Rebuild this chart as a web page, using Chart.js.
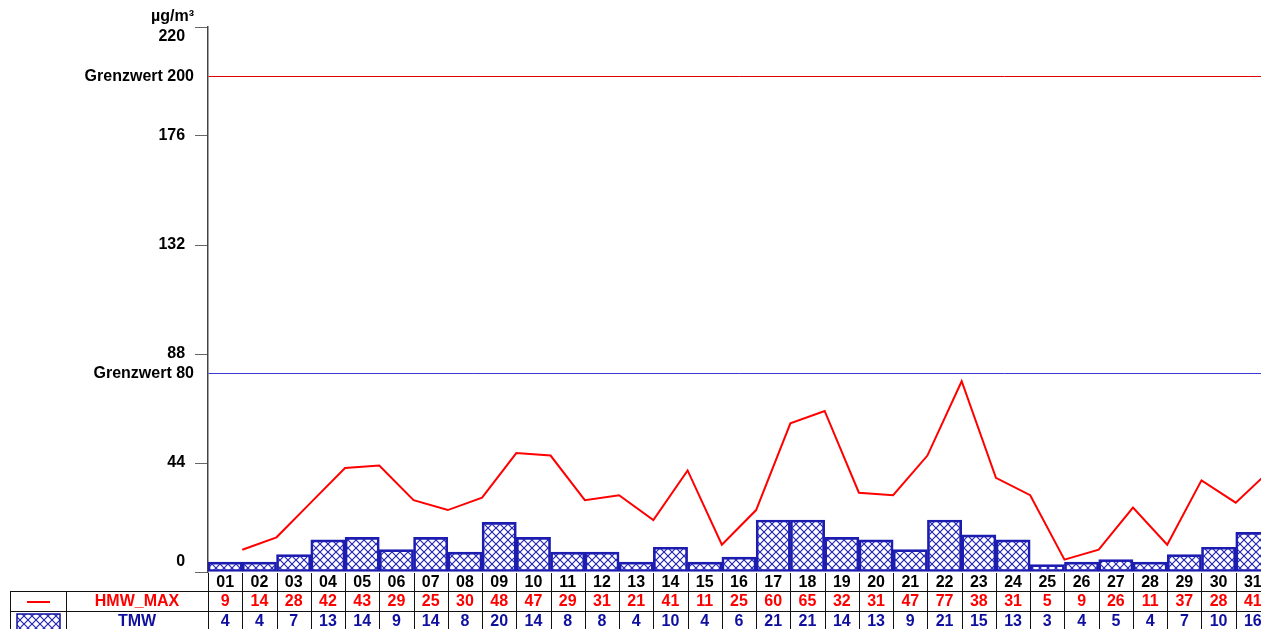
<!DOCTYPE html>
<html>
<head>
<meta charset="utf-8">
<script src="https://cdn.jsdelivr.net/npm/chart.js@4"></script>
<style>
  html, body { margin: 0; padding: 0; overflow: hidden; background: #fff; }
</style>
</head>
<body>
<canvas id="myChart" width="1270" height="629"></canvas>
<script>
// data
const days = ['01','02','03','04','05','06','07','08','09','10','11','12','13','14','15','16',
              '17','18','19','20','21','22','23','24','25','26','27','28','29','30','31'];
const hmwMax = [9,14,28,42,43,29,25,30,48,47,29,31,21,41,11,25,60,65,32,31,47,77,38,31,5,9,26,11,37,28,41];
const tmw = [4,4,7,13,14,9,14,8,20,14,8,8,4,10,4,6,21,21,14,13,9,21,15,13,3,4,5,4,7,10,16];
const tickValues = [0,44,88,132,176,220];
const limitValues = [80,200];
const unitLabel = 'µg/m³';

const RED = '#ff0000';
const BLUE = '#1010a0';
const FAMILY = '"Liberation Sans", Arial, sans-serif';
const FONT = 'bold 16px ' + FAMILY;

// cross hatch for the TMW bars
function hatch() {
    const c = document.createElement('canvas');
    c.width = 8; c.height = 8;
    const g = c.getContext('2d');
    g.strokeStyle = '#2626b8';
    g.lineWidth = 1.2;
    g.beginPath();
    g.moveTo(0, 0); g.lineTo(8, 8);
    g.moveTo(8, 0); g.lineTo(0, 8);
    g.stroke();
    return g.createPattern(c, 'repeat');
}
const pattern = hatch();

// table under the chart
const tablePlugin = {
    id: 'table',
    afterDraw(chart) {
        const ctx = chart.ctx;
        const x = chart.scales.x;
        const area = chart.chartArea;
        const y0 = area.bottom, y1 = y0 + 19, y2 = y1 + 20, y3 = chart.height + 2;
        ctx.save();
        ctx.strokeStyle = '#111';
        ctx.lineWidth = 1;
        ctx.beginPath();
        ctx.moveTo(10, y1 + 0.5); ctx.lineTo(area.right, y1 + 0.5);
        ctx.moveTo(10, y2 + 0.5); ctx.lineTo(area.right, y2 + 0.5);
        ctx.moveTo(10.5, y1); ctx.lineTo(10.5, y3);
        ctx.moveTo(66.5, y1); ctx.lineTo(66.5, y3);
        for (let i = 0; i <= days.length; i++) {
            const px = Math.round(x.getPixelForValue(i)) + 0.5;
            ctx.moveTo(px, y0 + 1); ctx.lineTo(px, y3);
        }
        ctx.stroke();

        // legend symbols
        ctx.strokeStyle = RED;
        ctx.lineWidth = 2;
        ctx.beginPath();
        ctx.moveTo(27, (y1 + y2) / 2 + 1); ctx.lineTo(50, (y1 + y2) / 2 + 1);
        ctx.stroke();
        ctx.fillStyle = pattern;
        ctx.fillRect(17, y2 + 3, 43, 20);
        ctx.strokeStyle = BLUE;
        ctx.lineWidth = 1.5;
        ctx.strokeRect(17, y2 + 3, 43, 20);

        ctx.font = FONT;
        ctx.textAlign = 'center';
        ctx.textBaseline = 'middle';
        ctx.fillStyle = RED;
        ctx.fillText('HMW_MAX', 137, (y1 + y2) / 2 + 1);
        ctx.fillStyle = BLUE;
        ctx.fillText('TMW', 137, (y2 + y3) / 2 + 1);

        days.forEach((d, i) => {
            const cx = x.getPixelForValue(i + 0.5);
            ctx.fillStyle = '#000';
            ctx.fillText(d, cx, (y0 + y1) / 2 + 1);
            ctx.fillStyle = RED;
            ctx.fillText(String(hmwMax[i]), cx, (y1 + y2) / 2 + 1);
            ctx.fillStyle = BLUE;
            ctx.fillText(String(tmw[i]), cx, (y2 + y3) / 2 + 1);
        });
        ctx.restore();
    }
};

const ctx = document.getElementById('myChart').getContext('2d');
const chart = new Chart(ctx, {
    type: 'bar',
    data: {
        datasets: [
            {
                type: 'line',
                label: 'HMW_MAX',
                data: hmwMax.map((v, i) => ({ x: i + 1, y: v })),
                borderColor: RED,
                borderWidth: 2,
                pointRadius: 0,
                tension: 0,
                fill: false
            },
            {
                label: 'TMW',
                data: tmw.map((v, i) => ({ x: i + 0.5, y: v })),
                backgroundColor: pattern,
                borderColor: '#1c1cb0',
                borderWidth: 2,
                borderSkipped: false,
                barPercentage: 1,
                categoryPercentage: 1
            }
        ]
    },
    options: {
        responsive: false,
        animation: false,
        layout: { padding: { top: 27, bottom: 57, left: 0, right: 0 } },
        plugins: {
            legend: { display: false },
            tooltip: { enabled: false }
        },
        scales: {
            x: { type: 'linear', display: false, offset: false, min: 0, max: days.length, ticks: { stepSize: 1 } },
            y: {
                min: 0,
                max: 220,
                afterFit(scale) { scale.width = 208; },
                afterBuildTicks(scale) {
                    scale.ticks = tickValues.concat(limitValues).sort((a, b) => a - b).map(v => ({ value: v }));
                },
                border: { color: '#444', width: 1.5 },
                grid: {
                    lineWidth: 1,
                    tickLength: 13,
                    color: c => c.tick && c.tick.value === 200 ? '#e00000' : (c.tick && c.tick.value === 80 ? '#3a3ad8' : 'rgba(0,0,0,0)'),
                    tickColor: c => c.tick && limitValues.includes(c.tick.value) ? 'rgba(0,0,0,0)' : '#666'
                },
                ticks: {
                    autoSkip: false,
                    padding: 1,
                    color: '#000',
                    font: { family: FAMILY, size: 16, weight: 'bold', lineHeight: 1.25 },
                    callback: v => {
                        if (v === 220) return [unitLabel, '220  '];
                        if (v === 0) return ['0  ', ''];
                        if (limitValues.includes(v)) return 'Grenzwert ' + v;
                        return v + '  ';
                    }
                }
            }
        }
    },
    plugins: [tablePlugin]
});
</script>
</body>
</html>
